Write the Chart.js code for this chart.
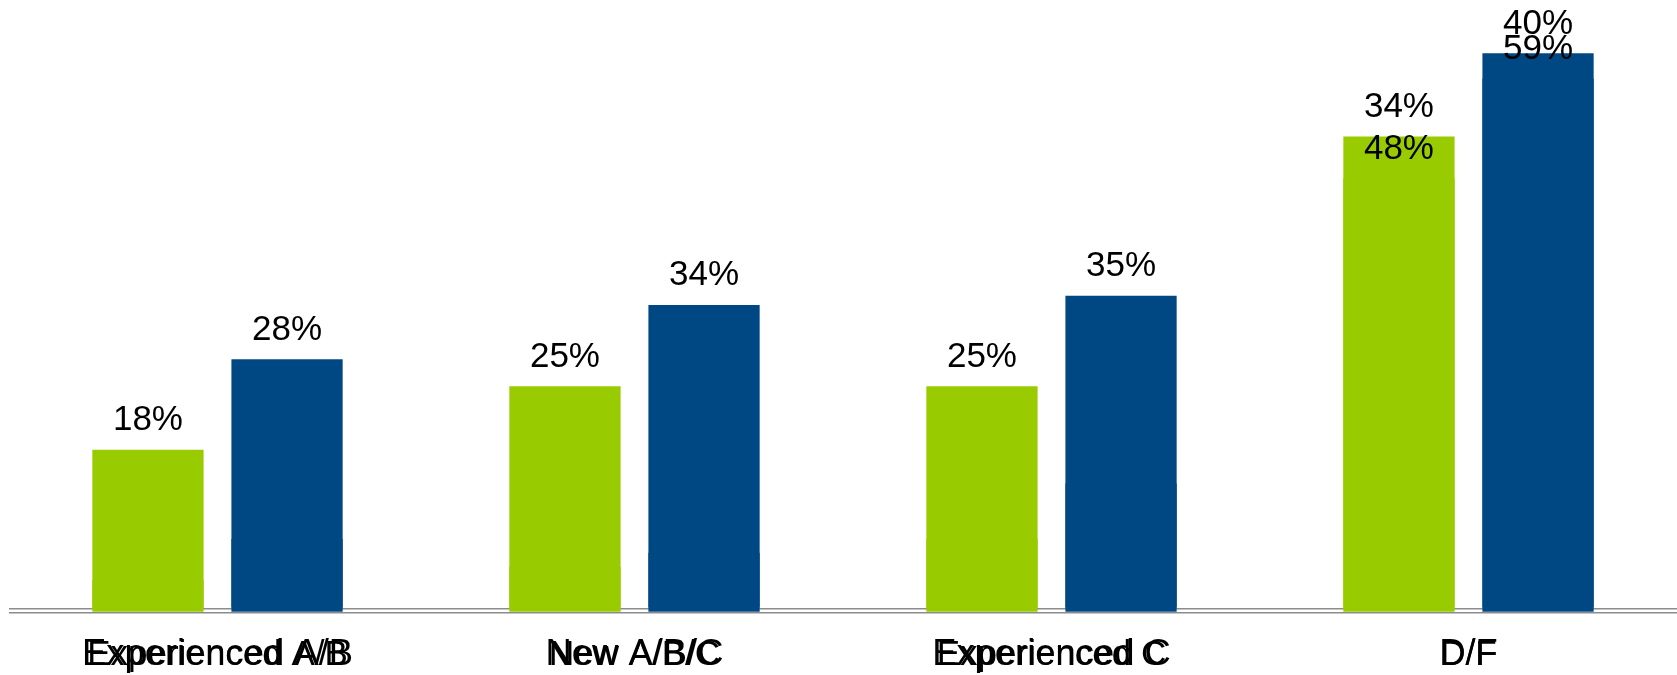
<!DOCTYPE html>
<html>
<head>
<meta charset="utf-8">
<script src="https://cdn.jsdelivr.net/npm/chart.js@4/dist/chart.umd.min.js"></script>
<style>
  html, body { margin: 0; padding: 0; background: #ffffff; overflow: hidden; }
  #c { display: block; }
</style>
</head>
<body>
<canvas id="c" width="1677" height="675"></canvas>
<script>
// Categories and values (percent)
const categories = ['Experienced A/B', 'New A/B/C', 'Experienced C', 'D/F'];
const greenValues = [18, 25, 25, 48];
const blueValues = [28, 34, 35, 59];
// Second set of bars, drawn behind the first on its own scale
const backGreenValues = [2, 3, 5, 34];
const backBlueValues = [5, 4, 9, 40];

const GREEN = '#99cc00';
const BLUE = '#004884';
const FONT = '"Liberation Sans", Arial, Helvetica, sans-serif';

// Percent labels drawn above each bar right after its dataset is painted
const valueLabels = {
  id: 'valueLabels',
  afterDatasetDraw(chart, args) {
    const ds = chart.data.datasets[args.index];
    const ctx = chart.ctx;
    ctx.save();
    ctx.font = '35px ' + FONT;
    ctx.fillStyle = '#000000';
    ctx.textAlign = 'center';
    ctx.textBaseline = 'alphabetic';
    args.meta.data.forEach((bar, i) => {
      ctx.fillText(ds.data[i] + '%', bar.x, bar.y - 19.5);
    });
    ctx.restore();
  }
};

// The second category axis takes no room during fitting; once the layout is
// done it is given the same box as the main axis so both label rows overlap.
const sharedAxisBox = {
  id: 'sharedAxisBox',
  afterLayout(chart) {
    const a = chart.scales.x, b = chart.scales.x2;
    b.top = a.top;
    b.bottom = a.bottom;
    b.height = a.height;
  }
};

const baseLine = (s) => { s.ticks = [{ value: 0 }]; };

function barSet(data, color, slot, yId, order) {
  return {
    data: data,
    backgroundColor: color,
    borderWidth: 0,
    stack: slot,
    xAxisID: 'x',
    yAxisID: yId,
    order: order,
    categoryPercentage: 0.667,
    barPercentage: 0.8
  };
}

new Chart(document.getElementById('c'), {
  type: 'bar',
  data: {
    labels: categories,
    datasets: [
      barSet(greenValues, GREEN, 'green', 'y', 0),
      barSet(blueValues, BLUE, 'blue', 'y', 0),
      barSet(backGreenValues, GREEN, 'green', 'y2', 1),
      barSet(backBlueValues, BLUE, 'blue', 'y2', 1)
    ]
  },
  options: {
    responsive: false,
    devicePixelRatio: 1,
    animation: false,
    layout: { padding: { left: 9, right: 0, top: 0, bottom: 0 } },
    plugins: { legend: { display: false }, tooltip: { enabled: false } },
    scales: {
      x: {
        type: 'category',
        position: 'bottom',
        weight: 1,
        offset: true,
        grid: { display: false, drawTicks: false },
        border: { display: false },
        ticks: { color: '#000000', font: { family: FONT, size: 35 }, padding: 22, maxRotation: 0, autoSkip: false },
        afterFit: (s) => { s.height = 62.5; }
      },
      x2: {
        type: 'category',
        position: 'bottom',
        weight: 0,
        offset: true,
        grid: { display: false, drawTicks: false },
        border: { display: false },
        ticks: { color: '#000000', font: { family: FONT, size: 36.4 }, padding: 21, maxRotation: 0, autoSkip: false },
        afterFit: (s) => { s.height = 0; }
      },
      y: {
        position: 'left',
        stacked: false,
        min: 0,
        max: 67.7,
        ticks: { display: false },
        border: { display: false },
        grid: { color: '#8c8c8c', lineWidth: 1.6, drawTicks: false },
        afterBuildTicks: baseLine,
        afterFit: (s) => { s.width = 0; }
      },
      y2: {
        position: 'left',
        stacked: false,
        min: -0.3,
        max: 43.84,
        ticks: { display: false },
        border: { display: false },
        grid: { color: '#8c8c8c', lineWidth: 1.6, drawTicks: false },
        afterBuildTicks: baseLine,
        afterFit: (s) => { s.width = 0; }
      }
    }
  },
  plugins: [valueLabels, sharedAxisBox]
});
</script>
</body>
</html>
